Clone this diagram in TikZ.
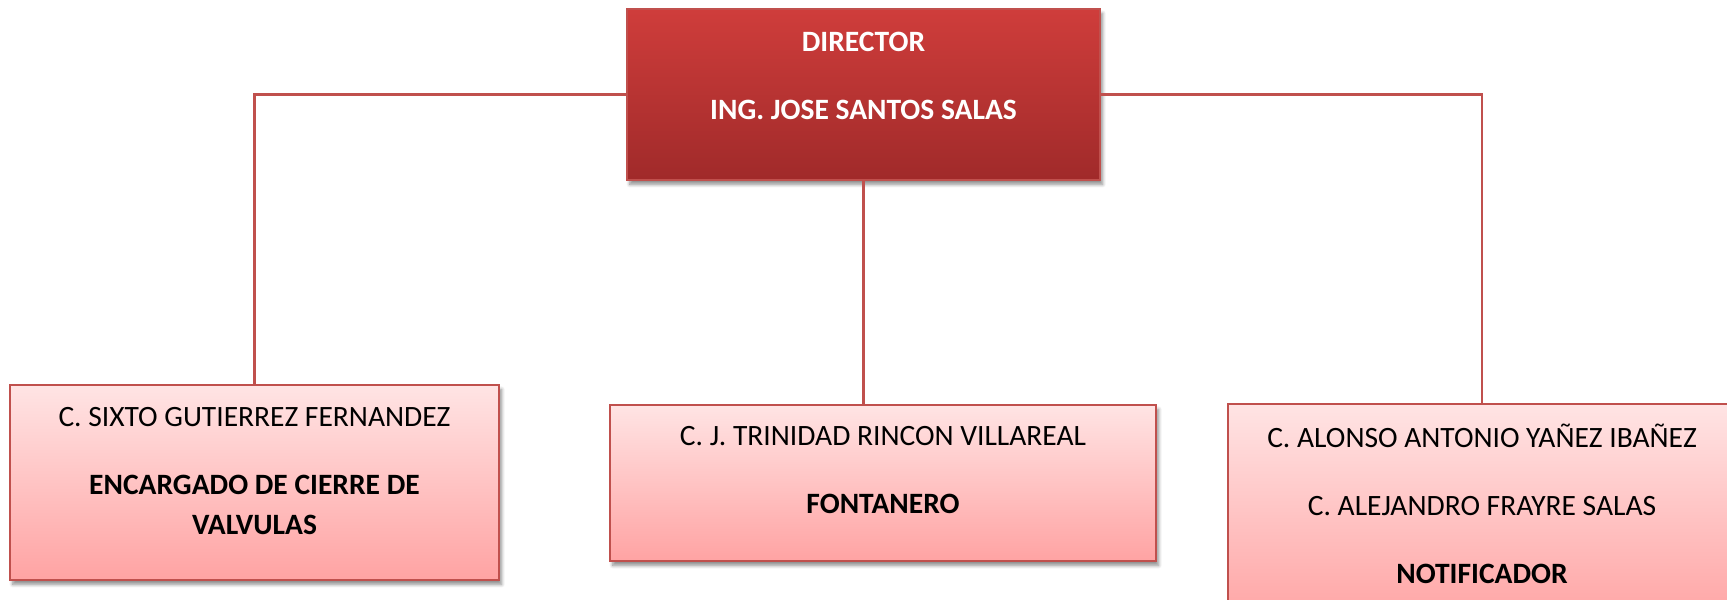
\documentclass[tikz,border=0pt]{standalone}
\usepackage{fontspec}
\setmainfont{Carlito}
\usepackage{tikz}
\usetikzlibrary{positioning,shadows.blur}
\definecolor{orgred}{RGB}{192,80,77}
\definecolor{dirtop}{RGB}{207,61,59}
\definecolor{dirbottom}{RGB}{160,42,42}
\definecolor{pinktop}{RGB}{255,228,228}
\definecolor{pinkbottom}{RGB}{255,163,163}

\begin{document}
\begin{tikzpicture}[x=0.02cm, y=-0.02cm,
    softshadow/.style={blur shadow={shadow xshift=1.5pt, shadow yshift=-2.5pt, shadow blur steps=6, shadow opacity=45}},
    dirbox/.style={rectangle, draw=orgred, line width=1.2pt, top color=dirtop, bottom color=dirbottom, softshadow},
    staffbox/.style={rectangle, draw=orgred, line width=1.4pt, top color=pinktop, bottom color=pinkbottom, softshadow},
    boxtext/.style={align=center, inner sep=0pt, font=\fontsize{16.8}{22.8}\selectfont},
    link/.style={draw=orgred, line width=1.3pt}
]
    \useasboundingbox (0,0) rectangle (1727,599);

    % Boxes
    \node[dirbox, minimum width=9.46cm, minimum height=3.42cm] (director) at (863.5,94.5) {};
    \node[staffbox, minimum width=9.78cm, minimum height=3.9cm] (sixto) at (254.5,482.5) {};
    \node[staffbox, minimum width=10.92cm, minimum height=3.12cm] (trinidad) at (883,483) {};
    \node[staffbox, minimum width=10.16cm, minimum height=4.42cm] (alonso) at (1482,514.5) {};

    % Lines
    \draw[link] (director.west) -| (sixto.north);
    \draw[link] (director.east) -| (alonso.north);
    \draw[link] (director.south) -- (director.south |- trinidad.north);

    % Texts
    \node[boxtext, text=white] (directorlbl) at (863.5,76)
        {\textbf{DIRECTOR}\\[15.9pt]\textbf{ING. JOSE SANTOS SALAS}};
    \node[boxtext] (sixtolbl) at (254.5,471)
        {C. SIXTO GUTIERREZ FERNANDEZ\\[15.9pt]\textbf{ENCARGADO DE CIERRE DE}\\\textbf{VALVULAS}};
    \node[boxtext] (trinidadlbl) at (883,470)
        {C. J. TRINIDAD RINCON VILLAREAL\\[15.9pt]\textbf{FONTANERO}};
    \node[boxtext] (alonsolbl) at (1482,503.5)
        {C. ALONSO ANTONIO YAÑEZ IBAÑEZ\\[15.9pt]C. ALEJANDRO FRAYRE SALAS\\[15.9pt]\textbf{NOTIFICADOR}};

\end{tikzpicture}
\end{document}
